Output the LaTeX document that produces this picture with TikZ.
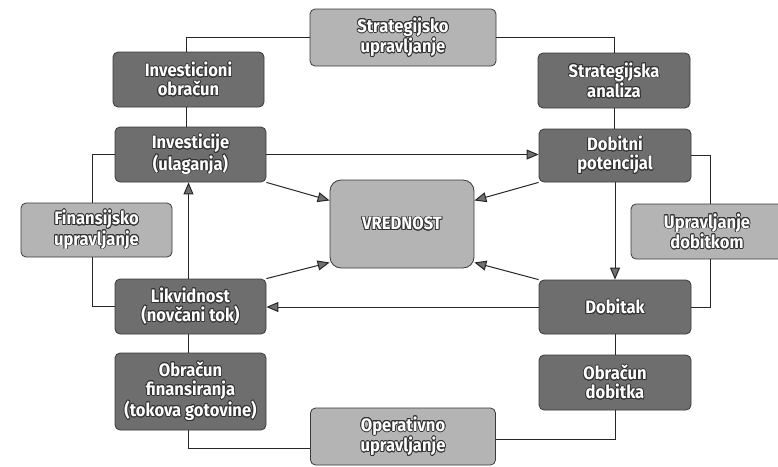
\documentclass[tikz,border=0pt]{standalone}
\usepackage{fontspec}
\newfontfamily\boxfont{Fira Sans}[UprightFont={* Bold}, FakeStretch=0.92]
\usepackage[copies]{contour}
\usetikzlibrary{arrows.meta}
\contourlength{0.8pt}
\definecolor{boxdark}{HTML}{6E6E6E}
\definecolor{boxlight}{HTML}{B4B4B4}
\definecolor{boxedge}{HTML}{3A3A3A}
\newcommand{\lbl}[1]{\contour{black!80}{#1}}
\begin{document}
\begin{tikzpicture}[x=1pt,y=-1pt,
  box/.style={draw=boxedge, line width=0.8pt, rounded corners=5pt,
    inner sep=0pt, align=center, text=white,
    font=\boxfont\fontsize{18}{19}\selectfont},
  darkbox/.style={box, fill=boxdark},
  lightbox/.style={box, fill=boxlight},
  link/.style={draw=black!85, line width=1pt},
  arr/.style={link, -{Triangle[length=12pt,width=10pt,fill=gray!60!black!80]}}]
\useasboundingbox (0,0) rectangle (778,466);
\clip (0,0) rectangle (778,466);

% management areas (light)
\node[lightbox, minimum width=186pt, minimum height=57pt] (strat) at (403,37.5)
  {\lbl{Strategijsko}\\\lbl{upravljanje}};
\node[lightbox, minimum width=151pt, minimum height=54pt] (fin) at (96.5,230)
  {\lbl{Finansijsko}\\\lbl{upravljanje}};
\node[lightbox, minimum width=152pt, minimum height=55pt] (uprdob) at (707,231.5)
  {\lbl{Upravljanje}\\\lbl{dobitkom}};
\node[lightbox, minimum width=185pt, minimum height=57pt] (oper) at (403,436.5)
  {\lbl{Operativno}\\\lbl{upravljanje}};
\node[lightbox, rounded corners=11pt, minimum width=144pt, minimum height=88pt] (vred) at (402,224)
  {\lbl{VREDNOST}};

% accounting / value drivers (dark)
\node[darkbox, minimum width=151pt, minimum height=55pt] (invobr) at (188.5,79.5)
  {\lbl{Investicioni}\\\lbl{obračun}};
\node[darkbox, minimum width=151pt, minimum height=55pt] (inv) at (190.5,154.5)
  {\lbl{Investicije}\\\lbl{(ulaganja)}};
\node[darkbox, minimum width=152pt, minimum height=55pt] (stratan) at (614,80.5)
  {\lbl{Strategijska}\\\lbl{analiza}};
\node[darkbox, minimum width=152pt, minimum height=53pt] (dobpot) at (615,155.5)
  {\lbl{Dobitni}\\\lbl{potencijal}};
\node[darkbox, minimum width=151pt, minimum height=55pt] (likv) at (190.5,306.5)
  {\lbl{Likvidnost}\\\lbl{(novčani tok)}};
\node[darkbox, minimum width=152pt, minimum height=54pt] (dobitak) at (615,307)
  {\lbl{Dobitak}};
\node[darkbox, minimum width=151pt, minimum height=77pt] (obrfin) at (190.5,391.5)
  {\lbl{Obračun}\\\lbl{finansiranja}\\\lbl{(tokova gotovine)}};
\node[darkbox, minimum width=152pt, minimum height=55pt] (obrdob) at (615,382.5)
  {\lbl{Obračun}\\\lbl{dobitka}};

% plain links
\draw[link] (strat.west) -| ([xshift=-2pt]invobr.north);
\draw[link] (strat.east) -| (stratan.north);
\draw[link] ([xshift=-2pt]invobr.south) -- ([xshift=-2pt]invobr.south |- inv.north);
\draw[link] (stratan.south) -- (stratan.south |- dobpot.north);
\draw[link] (dobpot.east) -| ([xshift=3pt]uprdob.north);
\draw[link] ([xshift=3pt]uprdob.south) |- (dobitak.east);
\draw[link] ([xshift=-4pt]fin.north) |- (inv.west);
\draw[link] ([xshift=-4pt]fin.south) |- (likv.west);
\draw[link] ([xshift=-2pt]likv.south) -- ([xshift=-2pt]likv.south |- obrfin.north);
\draw[link] (dobitak.south) -- (dobitak.south |- obrdob.north);
\draw[link] ([xshift=-2pt]obrfin.south) |- ([yshift=-12pt]oper.west);
\draw[link] (obrdob.south) |- ([yshift=-2.5pt]oper.east);

% arrows
\draw[arr] (inv.east) -- (inv.east -| dobpot.west);
\draw[arr] (inv.south east) -- (vred.162);
\draw[arr] (dobpot.south west) -- (vred.18);
\draw[arr] (dobpot.south) -- (dobitak.north);
\draw[arr] (dobitak.west) -- (dobitak.west -| likv.east);
\draw[arr] (dobitak.north west) -- (vred.332);
\draw[arr] (likv.north east) -- (vred.208);
\draw[arr] ([xshift=-2pt]likv.north) -- ([xshift=-2pt]inv.south);
\end{tikzpicture}
\end{document}
